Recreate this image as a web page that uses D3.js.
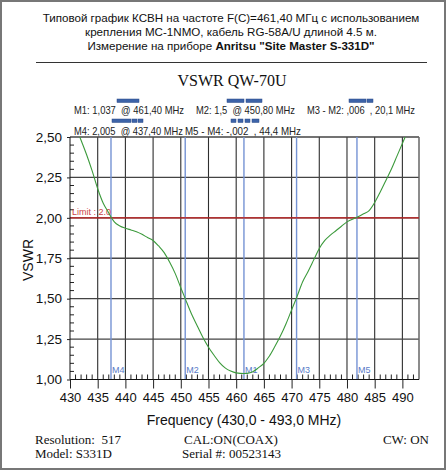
<!DOCTYPE html>
<html>
<head>
<meta charset="utf-8">
<script src="https://cdn.jsdelivr.net/npm/d3@7"></script>
<style>
  body { margin: 0; background: #fff; }
  svg { display: block; }
  .sans { font-family: "Liberation Sans", Arial, sans-serif; }
  .serif { font-family: "Liberation Serif", "Times New Roman", serif; }
</style>
</head>
<body>
<svg id="chart" width="446" height="470"></svg>
<script>
const freqs = [430, 431, 432, 433, 434, 435, 436, 437, 437.4, 438, 439, 440, 441, 442, 443, 444, 445,
  446, 447, 448, 449, 450, 450.8, 452, 453, 454, 455, 456, 457, 458, 459, 460, 461.4, 462, 463, 464,
  465, 466, 467, 468, 469, 470, 470.9, 472, 473, 474, 475, 476, 477, 478, 479, 480, 481.8, 483, 484,
  485, 486, 487, 488, 489, 490, 491, 492, 493];
const vswr = [2.68, 2.57, 2.48, 2.39, 2.29, 2.18, 2.09, 2.03, 2.005, 1.975, 1.95, 1.936, 1.925, 1.914,
  1.898, 1.878, 1.86, 1.826, 1.785, 1.725, 1.655, 1.568, 1.5, 1.4, 1.33, 1.26, 1.2, 1.15, 1.105, 1.072,
  1.052, 1.041, 1.037, 1.038, 1.048, 1.072, 1.1, 1.145, 1.205, 1.27, 1.345, 1.43, 1.506, 1.605, 1.67,
  1.74, 1.81, 1.86, 1.893, 1.92, 1.948, 1.975, 2.003, 2.025, 2.045, 2.095, 2.16, 2.23, 2.3, 2.38, 2.46,
  2.54, 2.62, 2.7];

const markerNames = ["M4", "M2", "M1", "M3", "M5"];
const markerFreqs = [437.4, 450.8, 461.4, 470.9, 481.8];

const xTicks = [430, 435, 440, 445, 450, 455, 460, 465, 470, 475, 480, 485, 490];
const yTicks = [1.0, 1.25, 1.5, 1.75, 2.0, 2.25, 2.5];
const limitValue = 2.0;

const titleLines = [
  "Типовой график КСВН на частоте F(C)=461,40 МГц с использованием",
  "крепления MC-1NMO, кабель RG-58A/U длиной 4.5 м."
];
const readoutRow1 = ["M1: 1,037  @ 461,40 MHz", "M2: 1,5  @ 450,80 MHz", "M3 - M2: ,006  , 20,1 MHz"];
const readoutRow2 = ["M4: 2,005  @ 437,40 MHz", "M5 - M4: -,002  , 44,4 MHz"];

const svg = d3.select("#chart");
const W = 446, H = 470;

// frame
svg.append("rect").attr("x", 1).attr("y", 1).attr("width", W - 2).attr("height", H - 2)
  .attr("fill", "#fff").attr("stroke", "#777").attr("stroke-width", 2);

// header
const head = svg.append("g").attr("class", "sans").attr("font-size", 11.6).attr("fill", "#111")
  .attr("text-anchor", "middle");
titleLines.forEach((t, i) => head.append("text").attr("x", 231).attr("y", 22 + i * 13.6).text(t));
const l3 = head.append("text").attr("x", 231).attr("y", 49.5);
l3.append("tspan").text("Измерение на приборе ");
l3.append("tspan").attr("font-weight", "bold").text("Anritsu \"Site Master S-331D\"");

svg.append("line").attr("x1", 36).attr("x2", 427).attr("y1", 62.5).attr("y2", 62.5)
  .attr("stroke", "#333").attr("stroke-width", 1);

svg.append("text").attr("class", "serif").attr("x", 232).attr("y", 86)
  .attr("text-anchor", "middle").attr("font-size", 16).attr("fill", "#111").text("VSWR QW-70U");

// marker readouts
const ro = svg.append("g").attr("class", "sans").attr("font-size", 10.5).attr("fill", "#222");
const row1X = [74, 196, 307], row1W = [110, 99, 108];
readoutRow1.forEach((t, i) => ro.append("text").attr("x", row1X[i]).attr("y", 114)
  .attr("xml:space", "preserve").attr("textLength", row1W[i]).attr("lengthAdjust", "spacingAndGlyphs").text(t));
const row2X = [74, 185], row2W = [109, 116];
readoutRow2.forEach((t, i) => ro.append("text").attr("x", row2X[i]).attr("y", 135)
  .attr("xml:space", "preserve").attr("textLength", row2W[i]).attr("lengthAdjust", "spacingAndGlyphs").text(t));

// little blue flag bars above the readouts (decoration of the printout)
const flagBars = [
  [117, 99, 22], [227, 99, 17], [246, 99, 16], [349, 99, 17], [367, 99, 6],
  [112, 119, 19], [132, 119, 5], [138, 119, 5],
  [231, 119, 5], [238, 119, 5], [245, 119, 5], [252, 119, 7]
];
svg.append("g").selectAll("rect").data(flagBars).join("rect")
  .attr("x", d => d[0]).attr("y", d => d[1]).attr("width", d => d[2]).attr("height", 3.5)
  .attr("fill", "#3d63a8").attr("stroke", "#2a4a88").attr("stroke-width", 0.5);

// plot
const x = d3.scaleLinear().domain([430, 493]).range([70, 419]);
const y = d3.scaleLinear().domain([1, 2.5]).range([379.5, 137]);

const plot = svg.append("g");

// vertical grid
plot.append("g").selectAll("line").data(xTicks.slice(1)).join("line")
  .attr("x1", d => x(d)).attr("x2", d => x(d)).attr("y1", y(2.5)).attr("y2", y(1))
  .attr("stroke", "#2e2e2e").attr("stroke-width", 1.1);
// horizontal grid
plot.append("g").selectAll("line").data(yTicks.slice(1)).join("line")
  .attr("x1", x(430)).attr("x2", x(493)).attr("y1", d => y(d)).attr("y2", d => y(d))
  .attr("stroke", "#444").attr("stroke-width", 1.3);
// right border
plot.append("line").attr("x1", x(493)).attr("x2", x(493)).attr("y1", y(2.5)).attr("y2", y(1))
  .attr("stroke", "#666").attr("stroke-width", 1.5);

// minor ticks
const minorY = d3.range(1.05, 2.5, 0.05).filter(v => Math.abs(v / 0.25 - Math.round(v / 0.25)) > 0.01);
plot.append("g").selectAll("line").data(minorY).join("line")
  .attr("x1", x(430)).attr("x2", x(430) + 4).attr("y1", d => y(d)).attr("y2", d => y(d))
  .attr("stroke", "#222");
const minorX = d3.range(431, 493, 1).filter(v => v % 5 !== 0);
plot.append("g").selectAll("line").data(minorX).join("line")
  .attr("x1", d => x(d)).attr("x2", d => x(d)).attr("y1", y(1)).attr("y2", y(1) - 5)
  .attr("stroke", "#222");

// marker lines
const mk = plot.append("g");
mk.selectAll("line").data(markerFreqs).join("line")
  .attr("x1", d => x(d)).attr("x2", d => x(d)).attr("y1", y(2.5)).attr("y2", y(1))
  .attr("stroke", "#7593d4").attr("stroke-width", 1.4);
mk.selectAll("text").data(markerFreqs).join("text")
  .attr("class", "sans").attr("x", d => x(d) + 1).attr("y", y(1) - 7)
  .attr("font-size", 9).attr("fill", "#5a7cc8").text((d, i) => markerNames[i]);

// limit line
plot.append("line").attr("x1", x(430)).attr("x2", x(493)).attr("y1", y(limitValue)).attr("y2", y(limitValue))
  .attr("stroke", "#c41e1e").attr("stroke-width", 1.4);
plot.append("text").attr("class", "sans").attr("x", x(430) + 2).attr("y", y(limitValue) - 2.5)
  .attr("font-size", 9).attr("fill", "#c44").text("Limit : 2.0");

// trace
svg.append("clipPath").attr("id", "clip").append("rect")
  .attr("x", x(430)).attr("y", y(2.5)).attr("width", x(493) - x(430)).attr("height", y(1) - y(2.5));
const line = d3.line().x((d, i) => x(freqs[i])).y(d => y(d)).curve(d3.curveMonotoneX);
plot.append("path").datum(vswr).attr("clip-path", "url(#clip)")
  .attr("d", line).attr("fill", "none").attr("stroke", "#3c9a3c").attr("stroke-width", 1.1);

// axes
const xAxis = d3.axisBottom(x).tickValues(xTicks).tickSize(9).tickPadding(4).tickFormat(d3.format("d"));
const gx = svg.append("g").attr("transform", `translate(0,${y(1)})`).call(xAxis);
gx.select(".domain").attr("stroke", "#111").attr("d", `M${x(430)},0H${x(493)}`);
gx.selectAll("line").attr("stroke", "#222");
gx.selectAll("text").attr("font-family", "Liberation Sans, Arial, sans-serif").attr("font-size", 13).attr("fill", "#111");

const fmtY = v => d3.format(".2f")(v).replace(".", ",");
const yAxis = d3.axisLeft(y).tickValues(yTicks).tickSize(3).tickPadding(5).tickFormat(fmtY);
const gy = svg.append("g").attr("transform", `translate(${x(430)},0)`).call(yAxis);
gy.select(".domain").attr("stroke", "#111").attr("d", `M0,${y(2.5)}V${y(1)}`);
gy.selectAll("line").attr("stroke", "#222");
gy.selectAll("text").attr("font-family", "Liberation Sans, Arial, sans-serif").attr("font-size", 13.5).attr("fill", "#111");

svg.append("text").attr("class", "sans").attr("transform", "translate(33,260) rotate(-90)")
  .attr("text-anchor", "middle").attr("font-size", 14).attr("fill", "#111").text("VSWR");

svg.append("text").attr("class", "sans").attr("x", 244).attr("y", 425)
  .attr("text-anchor", "middle").attr("font-size", 14).attr("fill", "#111")
  .text("Frequency (430,0 - 493,0 MHz)");

// footer
const ft = svg.append("g").attr("class", "serif").attr("font-size", 13).attr("fill", "#111");
ft.append("text").attr("x", 35).attr("y", 443.5).attr("xml:space", "preserve").text("Resolution:  517");
ft.append("text").attr("x", 35).attr("y", 457.5).text("Model: S331D");
ft.append("text").attr("x", 184).attr("y", 443.5).text("CAL:ON(COAX)");
ft.append("text").attr("x", 182).attr("y", 457.5).text("Serial #: 00523143");
ft.append("text").attr("x", 429).attr("y", 443.5).attr("text-anchor", "end").text("CW: ON");
</script>
</body>
</html>
